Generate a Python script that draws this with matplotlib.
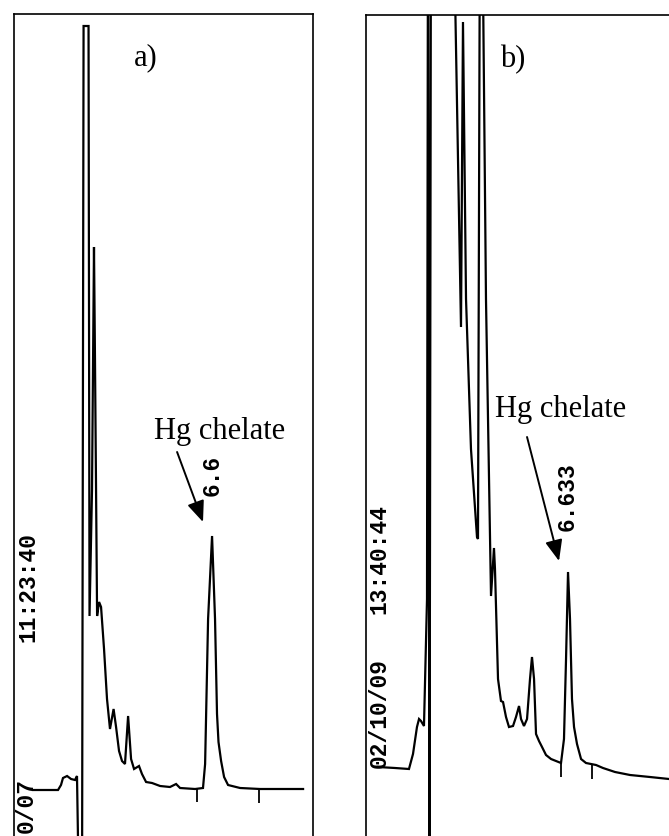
import matplotlib
matplotlib.use("Agg")
import matplotlib.pyplot as plt

# ---------------- data (time in min, detector response in a.u.) ----------------
time_a = [5.177, 5.379, 5.403, 5.419, 5.452, 5.484, 5.516, 5.532, 5.544, 5.573,
          5.585, 5.625, 5.633, 5.653, 5.669, 5.677, 5.694, 5.710, 5.726, 5.750,
          5.774, 5.798, 5.827, 5.847, 5.871, 5.895, 5.919, 5.944, 5.968, 5.992,
          6.032, 6.056, 6.089, 6.137, 6.202, 6.282, 6.331, 6.363, 6.484, 6.548,
          6.565, 6.589, 6.621, 6.645, 6.661, 6.673, 6.694, 6.718, 6.750, 6.847,
          7.008, 7.355]
resp_a = [0.0, 0.0, 0.5, 1.2, 1.4, 1.1, 1.0, 1.4, -8.0, -8.0,
          76.4, 76.4, 17.4, 30.0, 54.3, 43.1, 17.4, 18.8, 18.3, 14.1,
          9.1, 6.1, 8.1, 6.3, 3.9, 2.9, 2.6, 7.4, 3.1, 2.1,
          2.4, 1.6, 0.8, 0.7, 0.4, 0.3, 0.6, 0.2, 0.1, 0.2,
          2.6, 17.1, 25.4, 17.1, 7.6, 4.8, 2.9, 1.3, 0.5, 0.2,
          0.1, 0.1]

time_b = [3.548, 3.823, 4.048, 4.113, 4.177, 4.210, 4.242, 4.290, 4.339, 4.355,
          4.379, 4.403, 4.758, 4.887, 4.919, 4.968, 5.048, 5.145, 5.161, 5.194,
          5.226, 5.290, 5.371, 5.419, 5.435, 5.484, 5.532, 5.565, 5.613, 5.661,
          5.726, 5.774, 5.823, 5.855, 5.903, 5.952, 6.000, 6.032, 6.065, 6.097,
          6.145, 6.194, 6.258, 6.339, 6.419, 6.500, 6.548, 6.581, 6.613, 6.645,
          6.677, 6.710, 6.758, 6.823, 6.903, 7.065, 7.177, 7.371, 7.613, 7.935,
          8.242]
resp_b = [1.2, 1.1, 1.0, 2.5, 5.2, 6.0, 5.8, 5.3, 18.0, 90.0,
          -10.0, 90.0, 90.0, 45.2, 75.7, 48.0, 33.0, 24.2, 24.0, 90.0,
          90.0, 48.0, 18.3, 23.1, 21.0, 10.0, 7.8, 7.7, 6.2, 5.2,
          5.3, 6.2, 7.3, 6.0, 5.3, 6.0, 10.0, 12.2, 10.0, 4.5,
          3.8, 3.2, 2.4, 2.0, 1.8, 1.6, 4.0, 12.0, 20.7, 16.0,
          8.0, 5.2, 3.5, 2.0, 1.6, 1.4, 1.1, 0.7, 0.4, 0.2,
          0.0]

tick_times_a = [6.5, 7.0]
tick_base_a = [0.2, 0.1]
tick_times_b = [6.5, 7.0]
tick_base_b = [1.6, 1.4]

panel_labels = ["a)", "b)"]
peak_name = "Hg chelate"
rt_labels = ["6.6", "6.633"]
time_stamps = ["11:23:40", "13:40:44"]
date_stamps = ["0/07", "02/10/09"]

# ---------------- figure ----------------
W, H = 669, 837
fig = plt.figure(figsize=(W / 100, H / 100), dpi=100)
fig.patch.set_facecolor("white")

serif = ["Liberation Serif", "DejaVu Serif"]
mono = ["Liberation Mono", "DejaVu Sans Mono"]
LW = 1.6
SERIF_SIZE = 22
MONO_SIZE = 16.5


def setup(ax):
    ax.set_xticks([])
    ax.set_yticks([])
    ax.spines["bottom"].set_visible(False)
    for s in ("left", "right", "top"):
        ax.spines[s].set_linewidth(1.2)
        ax.spines[s].set_color("black")
    ax.set_facecolor("white")


def mono_text(ax, x, y, s):
    ax.text(x, y, s, fontsize=MONO_SIZE, family=mono, fontweight="bold",
            rotation=90, ha="center", va="center")


arrow_style = dict(arrowstyle="-|>,head_length=0.85,head_width=0.35",
                   mutation_scale=15, lw=1.4, color="black",
                   shrinkA=0, shrinkB=0)

# panel a
ax_a = fig.add_axes([14 / W, 0, (313 - 14) / W, 1 - 15 / H])
setup(ax_a)
ax_a.set_xlim(5.024, 7.435)
ax_a.set_ylim(-4.6, 77.6)
ax_a.plot(time_a, resp_a, color="black", lw=LW, solid_joinstyle="miter")
ax_a.vlines(tick_times_a, [b - 1.4 for b in tick_base_a], tick_base_a, color="black", lw=1.3)
ax_a.text(6.089, 73.3, panel_labels[0], fontsize=SERIF_SIZE, family=serif, ha="center", va="center")
ax_a.text(6.685, 35.9, peak_name, fontsize=SERIF_SIZE, family=serif, ha="center", va="center")
ax_a.annotate("", xy=(6.548, 26.8), xytext=(6.339, 33.8), arrowprops=arrow_style)
mono_text(ax_a, 6.621, 31.6, rt_labels[0])
mono_text(ax_a, 5.137, 20.4, time_stamps[0])
mono_text(ax_a, 5.125, -1.5, date_stamps[0])

# panel b
ax_b = fig.add_axes([366 / W, 0, (680 - 366) / W, 1 - 16 / H])
setup(ax_b)
ax_b.set_xlim(3.355, 8.419)
ax_b.set_ylim(-5.7, 76.4)
ax_b.plot(time_b, resp_b, color="black", lw=LW, solid_joinstyle="miter")
ax_b.vlines(tick_times_b, [b - 1.35 for b in tick_base_b], tick_base_b, color="black", lw=1.3)
ax_b.text(5.726, 72.0, panel_labels[1], fontsize=SERIF_SIZE, family=serif, ha="center", va="center")
ax_b.text(6.5, 37.0, peak_name, fontsize=SERIF_SIZE, family=serif, ha="center", va="center")
ax_b.annotate("", xy=(6.468, 21.8), xytext=(5.952, 34.2), arrowprops=arrow_style)
mono_text(ax_b, 6.597, 28.3, rt_labels[1])
mono_text(ax_b, 3.565, 22.1, time_stamps[1])
mono_text(ax_b, 3.565, 6.7, date_stamps[1])

fig.savefig("out.png", dpi=100, facecolor="white")
